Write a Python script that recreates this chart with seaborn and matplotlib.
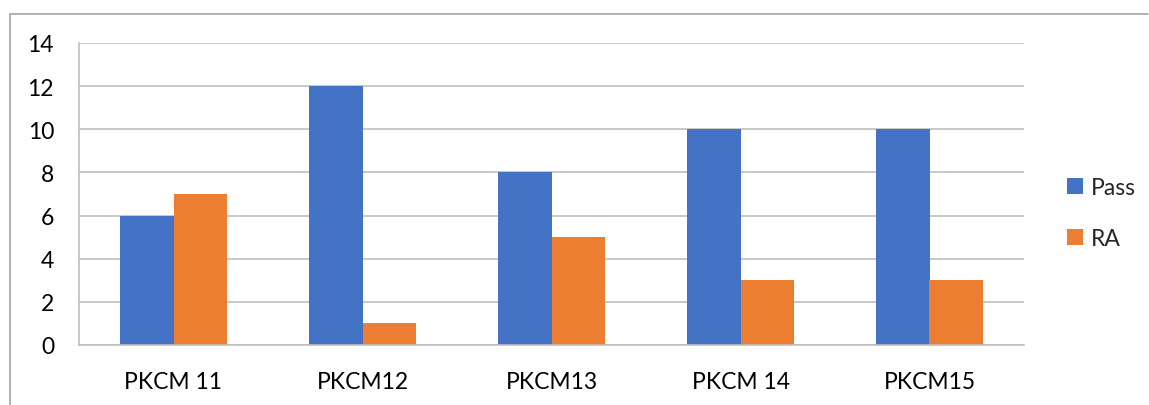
import matplotlib
matplotlib.use("Agg")
import matplotlib.pyplot as plt
import pandas as pd
import seaborn as sns
from matplotlib.lines import Line2D
from matplotlib.ticker import FixedLocator

# chart data
categories = ["PKCM 11", "PKCM12", "PKCM13", "PKCM 14", "PKCM15"]
pass_counts = [6, 12, 8, 10, 10]
ra_counts = [7, 1, 5, 3, 3]
series_names = ["Pass", "RA"]
y_ticks = [0, 2, 4, 6, 8, 10, 12, 14]

df = pd.DataFrame({
    "category": categories * 2,
    "series": [series_names[0]] * len(categories) + [series_names[1]] * len(categories),
    "value": pass_counts + ra_counts,
})

sns.set_style("white")
plt.rcParams["font.family"] = ["Lato", "DejaVu Sans"]

grid_col = "#BFBFBF"
fs = 16.5

fig = plt.figure(figsize=(11.49, 4.06), dpi=100)
ax = fig.add_axes([79 / 1149, 1 - 346 / 406, (1024 - 79) / 1149, (346 - 44) / 406])

sns.barplot(data=df, x="category", y="value", hue="series",
            palette=["#4472C4", "#ED7D31"], width=0.566, gap=0,
            saturation=1, linewidth=0, ax=ax, legend=True)

ax.set_xlim(-0.5, len(categories) - 0.5)
ax.set_ylim(0, 14)
ax.set_yticks(y_ticks)
ax.set_xlabel("")
ax.set_ylabel("")

ax.grid(axis="y", color=grid_col, linewidth=1.2)
ax.set_axisbelow(True)
for s in ["top", "right"]:
    ax.spines[s].set_visible(False)
for s in ["left", "bottom"]:
    ax.spines[s].set_color(grid_col)
    ax.spines[s].set_linewidth(1.2)

ax.tick_params(axis="y", length=6, color=grid_col, width=1.2, pad=12,
               labelsize=fs, labelcolor="#000000")
ax.tick_params(axis="x", which="major", length=0, pad=19,
               labelsize=fs, labelcolor="#000000")
ax.xaxis.set_minor_locator(FixedLocator([i - 0.5 for i in range(len(categories) + 1)]))
ax.tick_params(axis="x", which="minor", length=5, color=grid_col, width=1.2)

ax.legend_.remove()
handles, labels = ax.get_legend_handles_labels()
fig.legend(handles, labels, loc="center left",
           bbox_to_anchor=(1067 / 1149, 1 - 214 / 406),
           bbox_transform=fig.transFigure, frameon=False,
           borderaxespad=0, borderpad=0, handlelength=0.7,
           handleheight=0.7, handletextpad=0.35, labelspacing=1.3,
           fontsize=fs)

# chart frame (left and top edges visible in the crop)
fig.add_artist(Line2D([10 / 1149, 10 / 1149], [0, 1 - 15 / 406],
                      transform=fig.transFigure, color="#A6A6A6", linewidth=1.2))
fig.add_artist(Line2D([10 / 1149, 1148 / 1149], [1 - 15 / 406, 1 - 15 / 406],
                      transform=fig.transFigure, color="#A6A6A6", linewidth=1.2))

fig.savefig("out.png", dpi=100)
